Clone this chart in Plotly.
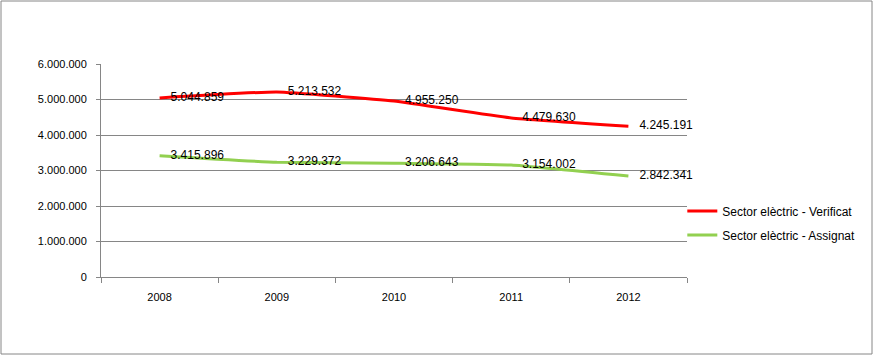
import plotly.graph_objects as go

years = ["2008", "2009", "2010", "2011", "2012"]
verificat = [5044859, 5213532, 4955250, 4479630, 4245191]
assignat = [3415896, 3229372, 3206643, 3154002, 2842341]
y_ticks = [0, 1000000, 2000000, 3000000, 4000000, 5000000, 6000000]
y_tick_text = ["0", "1.000.000", "2.000.000", "3.000.000", "4.000.000", "5.000.000", "6.000.000"]


def fmt(v):
    return f"{v:,}".replace(",", ".")


W, H = 874, 356
L, R, T, B = 101, 187, 64, 79

fig = go.Figure()
fig.add_trace(go.Scatter(
    x=years, y=verificat, mode="lines+markers+text", name="Sector elèctric - Verificat",
    legendgroup="a", cliponaxis=False,
    line=dict(color="#FF0000", width=3, shape="spline", smoothing=0.35),
    marker=dict(size=16, color="rgba(0,0,0,0)", line=dict(width=0)),
    text=[fmt(v) for v in verificat], textposition="middle right",
    textfont=dict(family="Liberation Sans", size=12, color="#000000"),
))
fig.add_trace(go.Scatter(
    x=years, y=assignat, mode="lines+markers+text", name="Sector elèctric - Assignat",
    legendgroup="b", cliponaxis=False,
    line=dict(color="#92D050", width=3, shape="spline", smoothing=0.35),
    marker=dict(size=16, color="rgba(0,0,0,0)", line=dict(width=0)),
    text=[fmt(v) for v in assignat], textposition="middle right",
    textfont=dict(family="Liberation Sans", size=12, color="#000000"),
))

pw = W - L - R
ph = H - T - B
fig.add_shape(type="rect", xref="paper", yref="paper",
              x0=(1 - L) / pw, x1=(W - 2 - L) / pw,
              y0=(H - B - (H - 2)) / ph, y1=(H - B - 1) / ph,
              line=dict(color="#868686", width=1), layer="below")

fig.update_layout(
    width=W, height=H,
    margin=dict(l=L, r=R, t=T, b=B),
    paper_bgcolor="white", plot_bgcolor="white",
    font=dict(family="Liberation Sans", size=11, color="#000000"),
    showlegend=True,
    legend=dict(x=0.992, y=0.254, xanchor="left", yanchor="middle",
                font=dict(family="Liberation Sans", size=12),
                tracegroupgap=5, itemwidth=30, bgcolor="rgba(0,0,0,0)"),
    xaxis=dict(type="category", range=[-0.5, 4.5], showgrid=False,
               showline=True, linecolor="#868686", linewidth=1,
               ticks="outside", tickson="boundaries", ticklen=5, tickcolor="#868686",
               ticklabelstandoff=10, tickfont=dict(size=11)),
    yaxis=dict(range=[0, 6000000], tickvals=y_ticks, ticktext=y_tick_text,
               showgrid=True, gridcolor="#868686", gridwidth=1,
               showline=True, linecolor="#868686", linewidth=1,
               ticks="outside", ticklen=4, tickcolor="#868686",
               ticklabelstandoff=7, tickfont=dict(size=11), zeroline=False),
)

fig.write_html("out.html", config={"displayModeBar": False},
               post_script="document.body.style.margin='0';document.body.style.padding='0';")
